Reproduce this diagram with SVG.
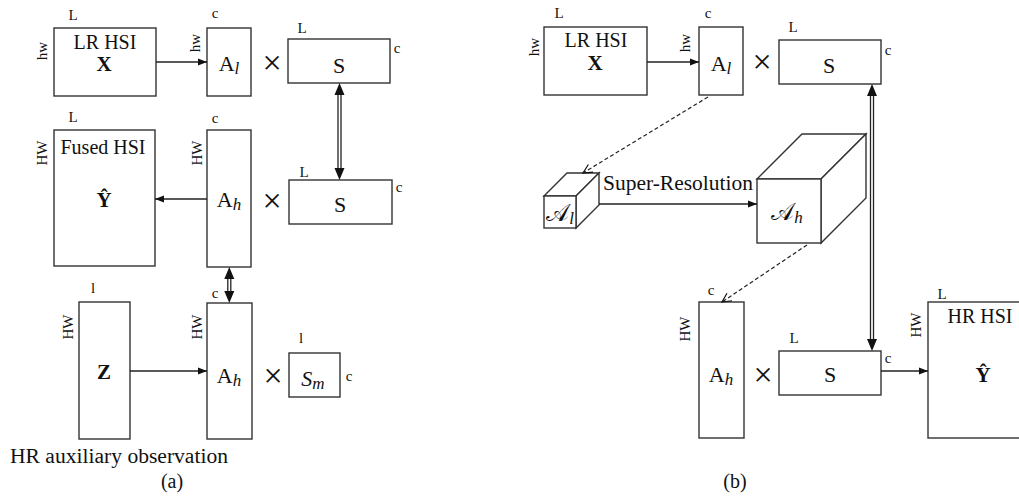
<svg xmlns="http://www.w3.org/2000/svg" width="1019" height="496" viewBox="0 0 1019 496">
<style>
text{font-family:"Liberation Serif","Times New Roman",serif;fill:#111}
.box{fill:#fff;stroke:#333;stroke-width:1.4}
.lab{font-size:15px}
.big{font-size:20px}
.mt{font-size:22px}
.sub{font-size:17px;font-style:italic}
.bold{font-weight:bold;font-size:21px}
.x{font-size:34px;font-family:"Liberation Serif","Times New Roman",serif}
.cal{font-size:24px;font-family:"DejaVu Sans","Noto Sans",sans-serif}
.conn{stroke:#222;stroke-width:1.4;fill:none}
.dash{stroke:#222;stroke-width:1.2;fill:none;stroke-dasharray:4 2.5}
.dl{stroke:#222;stroke-width:1.3}
.head{fill:#111}
</style>
<defs>
<marker id="arr" markerUnits="userSpaceOnUse" markerWidth="10" markerHeight="8" refX="9" refY="4" orient="auto">
<path d="M0,0.5 L9,4 L0,7.5 Z" fill="#111"/>
</marker>
<marker id="open" markerUnits="userSpaceOnUse" markerWidth="12" markerHeight="12" refX="10" refY="6" orient="auto">
<path d="M1,1.5 L10,6 L1,10.5" fill="none" stroke="#111" stroke-width="1.2"/>
</marker>
</defs>

<!-- ===== Panel (a) ===== -->
<g id="a-lrhsi">
<rect class="box" x="54" y="28" width="102" height="68"/>
<text class="lab" x="73" y="20" text-anchor="middle">L</text>
<text class="lab" transform="translate(47,51) rotate(-90)" text-anchor="middle">hw</text>
<text class="big" x="105" y="49" text-anchor="middle">LR HSI</text>
<text class="bold" x="104" y="71" text-anchor="middle">X</text>
</g>
<g id="a-al">
<rect class="box" x="207" y="28" width="44" height="68"/>
<text class="lab" x="215" y="18" text-anchor="middle">c</text>
<text class="lab" transform="translate(200,43) rotate(-90)" text-anchor="middle">hw</text>
<text class="mt" x="229" y="71" text-anchor="middle">A<tspan class="sub" dy="3">l</tspan></text>
</g>
<text class="x" x="272" y="74" text-anchor="middle">×</text>
<g id="a-s1">
<rect class="box" x="288" y="39" width="102" height="44"/>
<text class="lab" x="302" y="33" text-anchor="middle">L</text>
<text class="lab" x="397" y="53" text-anchor="middle">c</text>
<text class="mt" x="339" y="73" text-anchor="middle">S</text>
</g>
<g id="a-fused">
<rect class="box" x="54" y="130" width="101" height="136"/>
<text class="lab" x="73" y="122" text-anchor="middle">L</text>
<text class="lab" transform="translate(47,153) rotate(-90)" text-anchor="middle">HW</text>
<text class="big" x="103" y="154" text-anchor="middle">Fused HSI</text>
<text class="bold" x="104" y="207" text-anchor="middle">Ŷ</text>
</g>
<g id="a-ah1">
<rect class="box" x="207" y="130" width="44" height="137"/>
<text class="lab" x="215" y="123" text-anchor="middle">c</text>
<text class="lab" transform="translate(202,153) rotate(-90)" text-anchor="middle">HW</text>
<text class="mt" x="229" y="207" text-anchor="middle">A<tspan class="sub" dy="3">h</tspan></text>
</g>
<text class="x" x="272" y="212" text-anchor="middle">×</text>
<g id="a-s2">
<rect class="box" x="289" y="180" width="103" height="44"/>
<text class="lab" x="304" y="177" text-anchor="middle">L</text>
<text class="lab" x="399" y="192" text-anchor="middle">c</text>
<text class="mt" x="340" y="212" text-anchor="middle">S</text>
</g>
<g id="a-z">
<rect class="box" x="79" y="302" width="51" height="137"/>
<text class="lab" x="93" y="293" text-anchor="middle">l</text>
<text class="lab" transform="translate(73,327) rotate(-90)" text-anchor="middle">HW</text>
<text class="bold" x="104" y="379" text-anchor="middle">Z</text>
</g>
<g id="a-ah2">
<rect class="box" x="207" y="303" width="45" height="136"/>
<text class="lab" x="215" y="298" text-anchor="middle">c</text>
<text class="lab" transform="translate(202,327) rotate(-90)" text-anchor="middle">HW</text>
<text class="mt" x="229" y="383" text-anchor="middle">A<tspan class="sub" dy="3">h</tspan></text>
</g>
<text class="x" x="273" y="387" text-anchor="middle">×</text>
<g id="a-sm">
<rect class="box" x="289" y="353" width="51" height="44"/>
<text class="lab" x="301" y="343" text-anchor="middle">l</text>
<text class="lab" x="349" y="381" text-anchor="middle">c</text>
<text class="mt" x="313" y="386" text-anchor="middle"><tspan font-style="italic">S</tspan><tspan class="sub" dy="3">m</tspan></text>
</g>
<text class="big" x="10" y="463" textLength="218" lengthAdjust="spacingAndGlyphs">HR auxiliary observation</text>
<text class="big" x="172" y="488" text-anchor="middle">(a)</text>

<!-- ===== Panel (b) ===== -->
<g id="b-lrhsi">
<rect class="box" x="544" y="27" width="103" height="68"/>
<text class="lab" x="559" y="18" text-anchor="middle">L</text>
<text class="lab" transform="translate(539,47) rotate(-90)" text-anchor="middle">hw</text>
<text class="big" x="596" y="47" text-anchor="middle">LR HSI</text>
<text class="bold" x="595" y="70" text-anchor="middle">X</text>
</g>
<g id="b-al">
<rect class="box" x="699" y="27" width="44" height="68"/>
<text class="lab" x="708" y="18" text-anchor="middle">c</text>
<text class="lab" transform="translate(690,43) rotate(-90)" text-anchor="middle">hw</text>
<text class="mt" x="721" y="71" text-anchor="middle">A<tspan class="sub" dy="3">l</tspan></text>
</g>
<text class="x" x="762" y="73" text-anchor="middle">×</text>
<g id="b-s1">
<rect class="box" x="779" y="40" width="102" height="44"/>
<text class="lab" x="793" y="32" text-anchor="middle">L</text>
<text class="lab" x="888" y="55" text-anchor="middle">c</text>
<text class="mt" x="829" y="73" text-anchor="middle">S</text>
</g>
<g id="b-cube-al">
<path class="box" d="M544,196 L567,173 L599,173 L576,196 Z"/>
<path class="box" d="M576,196 L599,173 L599,205 L576,228 Z"/>
<rect class="box" x="544" y="196" width="32" height="32"/>
<text class="cal" x="560" y="221" text-anchor="middle">𝒜<tspan class="sub" dy="3" font-family="Liberation Serif">l</tspan></text>
</g>
<text font-size="21" x="603" y="190" textLength="150" lengthAdjust="spacingAndGlyphs">Super-Resolution</text>
<g id="b-cube-ah">
<path class="box" d="M757,179 L802,134 L866,134 L821,179 Z"/>
<path class="box" d="M821,179 L866,134 L866,198 L821,243 Z"/>
<rect class="box" x="757" y="179" width="64" height="64"/>
<text class="cal" x="787" y="220" text-anchor="middle">𝒜<tspan class="sub" dy="3" font-family="Liberation Serif">h</tspan></text>
</g>
<g id="b-ah">
<rect class="box" x="699" y="302" width="45" height="136"/>
<text class="lab" x="711" y="295" text-anchor="middle">c</text>
<text class="lab" transform="translate(690,329) rotate(-90)" text-anchor="middle">HW</text>
<text class="mt" x="721" y="382" text-anchor="middle">A<tspan class="sub" dy="3">h</tspan></text>
</g>
<text class="x" x="763" y="386" text-anchor="middle">×</text>
<g id="b-s2">
<rect class="box" x="779" y="351" width="102" height="44"/>
<text class="lab" x="794" y="343" text-anchor="middle">L</text>
<text class="lab" x="888" y="363" text-anchor="middle">c</text>
<text class="mt" x="830" y="382" text-anchor="middle">S</text>
</g>
<g id="b-hrhsi">
<rect class="box" x="928" y="302" width="115" height="136"/>
<text class="lab" x="942" y="299" text-anchor="middle">L</text>
<text class="lab" transform="translate(921,325) rotate(-90)" text-anchor="middle">HW</text>
<text class="big" x="980" y="323" text-anchor="middle">HR HSI</text>
<text class="bold" x="983" y="382" text-anchor="middle">Ŷ</text>
</g>
<text class="big" x="735" y="488" text-anchor="middle">(b)</text>

<!-- ===== Connectors ===== -->
<g id="connectors">
<line class="conn" x1="156" y1="62" x2="207" y2="62" marker-end="url(#arr)"/>
<line class="conn" x1="207" y1="199" x2="155" y2="199" marker-end="url(#arr)"/>
<line class="conn" x1="130" y1="371" x2="207" y2="371" marker-end="url(#arr)"/>
<line class="dl" x1="338" y1="92" x2="338" y2="171"/>
<line class="dl" x1="341" y1="92" x2="341" y2="171"/>
<path class="head" d="M339.5,83 L334.5,95 L344.5,95 Z"/>
<path class="head" d="M339.5,180 L334.5,168 L344.5,168 Z"/>
<line class="dl" x1="227.8" y1="276" x2="227.8" y2="294"/>
<line class="dl" x1="230.8" y1="276" x2="230.8" y2="294"/>
<path class="head" d="M229.3,267 L224.3,279 L234.3,279 Z"/>
<path class="head" d="M229.3,303 L224.3,291 L234.3,291 Z"/>
<line class="conn" x1="647" y1="62" x2="699" y2="62" marker-end="url(#arr)"/>
<line class="dash" x1="708" y1="97" x2="583" y2="173" marker-end="url(#open)"/>
<line class="conn" x1="599" y1="204" x2="757" y2="204" marker-end="url(#arr)"/>
<line class="dash" x1="807" y1="245" x2="722" y2="302" marker-end="url(#open)"/>
<line class="conn" x1="881" y1="371" x2="928" y2="371" marker-end="url(#arr)"/>
<line class="dl" x1="870.5" y1="93" x2="870.5" y2="341"/>
<line class="dl" x1="873.5" y1="93" x2="873.5" y2="341"/>
<path class="head" d="M872,84 L867,96 L877,96 Z"/>
<path class="head" d="M872,351 L867,339 L877,339 Z"/>
</g>
</svg>
